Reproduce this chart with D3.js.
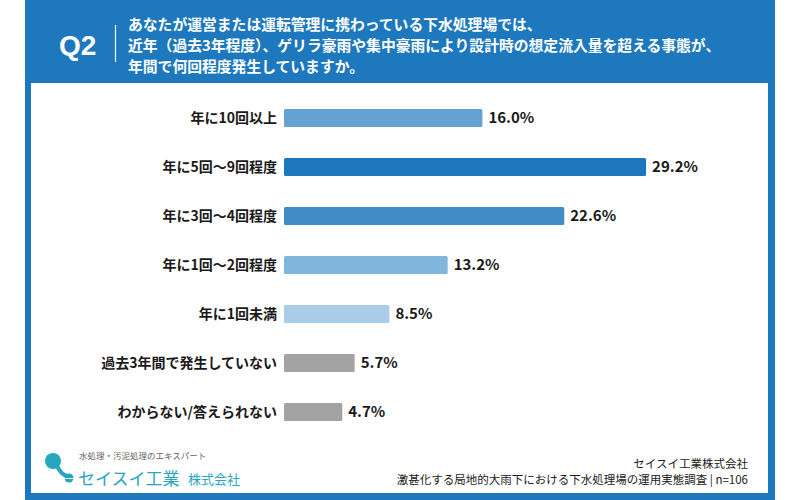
<!DOCTYPE html>
<html>
<head>
<meta charset="utf-8">
<script src="https://cdn.jsdelivr.net/npm/d3@7"></script>
<style>
  html, body { margin: 0; padding: 0; background: #fff; }
  svg text { font-family: "Noto Sans CJK JP", "Noto Sans", sans-serif; }
</style>
</head>
<body>
<div id="chart"></div>
<script>
// chart data
var categories = ["年に10回以上", "年に5回～9回程度", "年に3回～4回程度", "年に1回～2回程度",
                  "年に1回未満", "過去3年間で発生していない", "わからない/答えられない"];
var values = [16.0, 29.2, 22.6, 13.2, 8.5, 5.7, 4.7];
var titleLines = ["あなたが運営または運転管理に携わっている下水処理場では、",
                  "近年（過去3年程度）、ゲリラ豪雨や集中豪雨により設計時の想定流入量を超える事態が、",
                  "年間で何回程度発生していますか。"];
var sourceLines = ["セイスイ工業株式会社",
                   "激甚化する局地的大雨下における下水処理場の運用実態調査 | n=106"];

var barColors = ["#64a2d2", "#1f78be", "#3f8cc8", "#80b5dc", "#a9cce7", "#a3a3a3", "#a3a3a3"];
var frameBlue = "#1e78be",
    teal = "#27a6bd",
    textColor = "#1a1a1a";

var width = 800, height = 500;

var svg = d3.select("#chart").append("svg")
            .attr("width", width)
            .attr("height", height);

// blue frame + white panel
svg.append("rect").attr("x", 25).attr("y", 0).attr("width", 750).attr("height", 500).attr("fill", frameBlue);
svg.append("rect").attr("x", 31).attr("y", 83).attr("width", 737).attr("height", 410).attr("fill", "#fff");

// header
svg.append("text")
   .attr("x", 59).attr("y", 55)
   .attr("fill", "#fff")
   .attr("font-size", 28)
   .attr("font-weight", "bold")
   .style("font-family", "'Liberation Sans', Arial, sans-serif")
   .text("Q2");

svg.append("line")
   .attr("x1", 115.5).attr("x2", 115.5)
   .attr("y1", 25).attr("y2", 62)
   .attr("stroke", "#fff").attr("stroke-width", 1.2);

svg.selectAll(".title")
   .data(titleLines)
   .enter().append("text")
   .attr("class", "title")
   .attr("x", 128)
   .attr("y", function(d, i) { return 30 + i * 21; })
   .attr("fill", "#fff")
   .attr("font-size", 14.8)
   .attr("font-weight", "bold")
   .text(function(d) { return d; });

// scales
var x = d3.scaleLinear().domain([0, 30]).range([284, 656]);
var y = d3.scalePoint().domain(categories).range([118, 412]);
var barH = 18;

var rows = svg.selectAll(".row")
   .data(categories)
   .enter().append("g")
   .attr("class", "row");

rows.append("rect")
    .attr("x", x(0))
    .attr("y", function(d) { return y(d) - barH / 2; })
    .attr("width", function(d, i) { return x(values[i]) - x(0); })
    .attr("height", barH)
    .attr("rx", 1.5)
    .attr("fill", function(d, i) { return barColors[i]; });

rows.append("text")
    .attr("x", 277)
    .attr("y", function(d) { return y(d); })
    .attr("dy", "0.35em")
    .attr("text-anchor", "end")
    .attr("font-size", 14)
    .attr("font-weight", "bold")
    .attr("fill", textColor)
    .text(function(d) { return d; });

rows.append("text")
    .attr("x", function(d, i) { return x(values[i]) + 6; })
    .attr("y", function(d) { return y(d); })
    .attr("dy", "0.36em")
    .attr("font-size", 15)
    .attr("font-weight", "bold")
    .attr("fill", textColor)
    .text(function(d, i) { return values[i].toFixed(1) + "%"; });

// source
svg.selectAll(".source")
   .data(sourceLines)
   .enter().append("text")
   .attr("class", "source")
   .attr("x", 748)
   .attr("y", function(d, i) { return 468 + i * 16; })
   .attr("text-anchor", "end")
   .attr("font-size", 11.5)
   .attr("fill", textColor)
   .text(function(d) { return d; });

// logo
var logo = svg.append("g");
logo.append("circle").attr("cx", 53).attr("cy", 461).attr("r", 8).attr("fill", teal);
logo.append("path")
    .attr("d", "M 57 466 Q 62 476 68 476")
    .attr("stroke", teal).attr("stroke-width", 4).attr("fill", "none");
logo.append("circle").attr("cx", 69).attr("cy", 478).attr("r", 4.5).attr("fill", teal);
logo.append("line")
    .attr("x1", 53).attr("x2", 74).attr("y1", 478.5).attr("y2", 478.5)
    .attr("stroke", "#fff").attr("stroke-width", 0.8);
logo.append("text")
    .attr("x", 79).attr("y", 459)
    .attr("font-size", 8.5)
    .attr("fill", "#666")
    .text("水処理・汚泥処理のエキスパート");
logo.append("text")
    .attr("x", 78).attr("y", 485)
    .attr("font-size", 17)
    .attr("fill", teal)
    .text("セイスイ工業");
logo.append("text")
    .attr("x", 188).attr("y", 484)
    .attr("font-size", 13)
    .attr("fill", teal)
    .text("株式会社");
</script>
</body>
</html>
